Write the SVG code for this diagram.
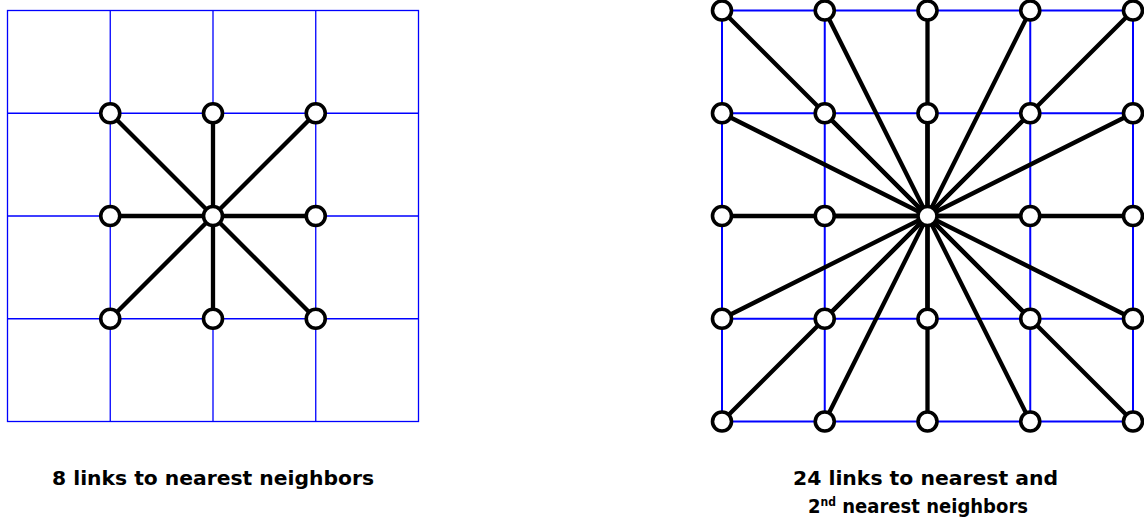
<svg xmlns="http://www.w3.org/2000/svg" width="1144" height="520" viewBox="0 0 1144 520">
  <style>
    .grid-l { stroke: #0000ff; stroke-width: 1.3; fill: none; }
    .grid-r { stroke: #0000ff; stroke-width: 2; fill: none; }
    .link { stroke: #000; stroke-width: 4.3; stroke-linecap: round; }
    .node circle { fill: #fff; stroke: #000; stroke-width: 3.6; }
    .label { font-family: "DejaVu Sans", "Liberation Sans", sans-serif; font-weight: bold; font-size: 20px; fill: #000; }
  </style>
  <rect width="1144" height="520" fill="#fff"/>

  <!-- left lattice -->
  <g id="grid-left" class="grid-l">
    <rect x="7.5" y="10.5" width="411" height="411"/>
    <path d="M110.25 10.5V421.5M213 10.5V421.5M315.75 10.5V421.5M7.5 113.25H418.5M7.5 216H418.5M7.5 318.75H418.5"/>
  </g>

  <!-- right lattice -->
  <g id="grid-right" class="grid-r">
    <rect x="722" y="10.5" width="411" height="411"/>
    <path d="M824.75 10.5V421.5M927.5 10.5V421.5M1030.25 10.5V421.5M722 113.25H1133M722 216H1133M722 318.75H1133"/>
  </g>

  <!-- links -->
  <g id="connectors" class="link">
    <line x1="213" y1="216" x2="110.25" y2="113.25"/>
    <line x1="213" y1="216" x2="213" y2="113.25"/>
    <line x1="213" y1="216" x2="315.75" y2="113.25"/>
    <line x1="213" y1="216" x2="110.25" y2="216"/>
    <line x1="213" y1="216" x2="315.75" y2="216"/>
    <line x1="213" y1="216" x2="110.25" y2="318.75"/>
    <line x1="213" y1="216" x2="213" y2="318.75"/>
    <line x1="213" y1="216" x2="315.75" y2="318.75"/>

    <line x1="927.5" y1="216" x2="722" y2="10.5"/>
    <line x1="927.5" y1="216" x2="824.75" y2="10.5"/>
    <line x1="927.5" y1="216" x2="927.5" y2="10.5"/>
    <line x1="927.5" y1="216" x2="1030.25" y2="10.5"/>
    <line x1="927.5" y1="216" x2="1133" y2="10.5"/>
    <line x1="927.5" y1="216" x2="722" y2="113.25"/>
    <line x1="927.5" y1="216" x2="824.75" y2="113.25"/>
    <line x1="927.5" y1="216" x2="927.5" y2="113.25"/>
    <line x1="927.5" y1="216" x2="1030.25" y2="113.25"/>
    <line x1="927.5" y1="216" x2="1133" y2="113.25"/>
    <line x1="927.5" y1="216" x2="722" y2="216"/>
    <line x1="927.5" y1="216" x2="824.75" y2="216"/>
    <line x1="927.5" y1="216" x2="1030.25" y2="216"/>
    <line x1="927.5" y1="216" x2="1133" y2="216"/>
    <line x1="927.5" y1="216" x2="722" y2="318.75"/>
    <line x1="927.5" y1="216" x2="824.75" y2="318.75"/>
    <line x1="927.5" y1="216" x2="927.5" y2="318.75"/>
    <line x1="927.5" y1="216" x2="1030.25" y2="318.75"/>
    <line x1="927.5" y1="216" x2="1133" y2="318.75"/>
    <line x1="927.5" y1="216" x2="722" y2="421.5"/>
    <line x1="927.5" y1="216" x2="824.75" y2="421.5"/>
    <line x1="927.5" y1="216" x2="927.5" y2="421.5"/>
    <line x1="927.5" y1="216" x2="1030.25" y2="421.5"/>
    <line x1="927.5" y1="216" x2="1133" y2="421.5"/>
  </g>

  <!-- left nodes -->
  <g id="L-1-1" class="node"><circle cx="110.25" cy="113.25" r="9.5"/></g>
  <g id="L-1-2" class="node"><circle cx="213" cy="113.25" r="9.5"/></g>
  <g id="L-1-3" class="node"><circle cx="315.75" cy="113.25" r="9.5"/></g>
  <g id="L-2-1" class="node"><circle cx="110.25" cy="216" r="9.5"/></g>
  <g id="L-2-2" class="node"><circle cx="213" cy="216" r="9.5"/></g>
  <g id="L-2-3" class="node"><circle cx="315.75" cy="216" r="9.5"/></g>
  <g id="L-3-1" class="node"><circle cx="110.25" cy="318.75" r="9.5"/></g>
  <g id="L-3-2" class="node"><circle cx="213" cy="318.75" r="9.5"/></g>
  <g id="L-3-3" class="node"><circle cx="315.75" cy="318.75" r="9.5"/></g>

  <!-- right nodes -->
  <g id="R-0-0" class="node"><circle cx="722" cy="10.5" r="9.5"/></g>
  <g id="R-0-1" class="node"><circle cx="824.75" cy="10.5" r="9.5"/></g>
  <g id="R-0-2" class="node"><circle cx="927.5" cy="10.5" r="9.5"/></g>
  <g id="R-0-3" class="node"><circle cx="1030.25" cy="10.5" r="9.5"/></g>
  <g id="R-0-4" class="node"><circle cx="1133" cy="10.5" r="9.5"/></g>
  <g id="R-1-0" class="node"><circle cx="722" cy="113.25" r="9.5"/></g>
  <g id="R-1-1" class="node"><circle cx="824.75" cy="113.25" r="9.5"/></g>
  <g id="R-1-2" class="node"><circle cx="927.5" cy="113.25" r="9.5"/></g>
  <g id="R-1-3" class="node"><circle cx="1030.25" cy="113.25" r="9.5"/></g>
  <g id="R-1-4" class="node"><circle cx="1133" cy="113.25" r="9.5"/></g>
  <g id="R-2-0" class="node"><circle cx="722" cy="216" r="9.5"/></g>
  <g id="R-2-1" class="node"><circle cx="824.75" cy="216" r="9.5"/></g>
  <g id="R-2-2" class="node"><circle cx="927.5" cy="216" r="9.5"/></g>
  <g id="R-2-3" class="node"><circle cx="1030.25" cy="216" r="9.5"/></g>
  <g id="R-2-4" class="node"><circle cx="1133" cy="216" r="9.5"/></g>
  <g id="R-3-0" class="node"><circle cx="722" cy="318.75" r="9.5"/></g>
  <g id="R-3-1" class="node"><circle cx="824.75" cy="318.75" r="9.5"/></g>
  <g id="R-3-2" class="node"><circle cx="927.5" cy="318.75" r="9.5"/></g>
  <g id="R-3-3" class="node"><circle cx="1030.25" cy="318.75" r="9.5"/></g>
  <g id="R-3-4" class="node"><circle cx="1133" cy="318.75" r="9.5"/></g>
  <g id="R-4-0" class="node"><circle cx="722" cy="421.5" r="9.5"/></g>
  <g id="R-4-1" class="node"><circle cx="824.75" cy="421.5" r="9.5"/></g>
  <g id="R-4-2" class="node"><circle cx="927.5" cy="421.5" r="9.5"/></g>
  <g id="R-4-3" class="node"><circle cx="1030.25" cy="421.5" r="9.5"/></g>
  <g id="R-4-4" class="node"><circle cx="1133" cy="421.5" r="9.5"/></g>

  <!-- captions -->
  <text class="label" x="52" y="485" textLength="322" lengthAdjust="spacingAndGlyphs">8 links to nearest neighbors</text>
  <text class="label" x="793" y="485" textLength="265" lengthAdjust="spacingAndGlyphs">24 links to nearest and</text>
  <text class="label" x="808" y="513" textLength="220" lengthAdjust="spacingAndGlyphs">2<tspan font-size="12" dy="-7">nd</tspan><tspan dy="7"> nearest neighbors</tspan></text>
</svg>
